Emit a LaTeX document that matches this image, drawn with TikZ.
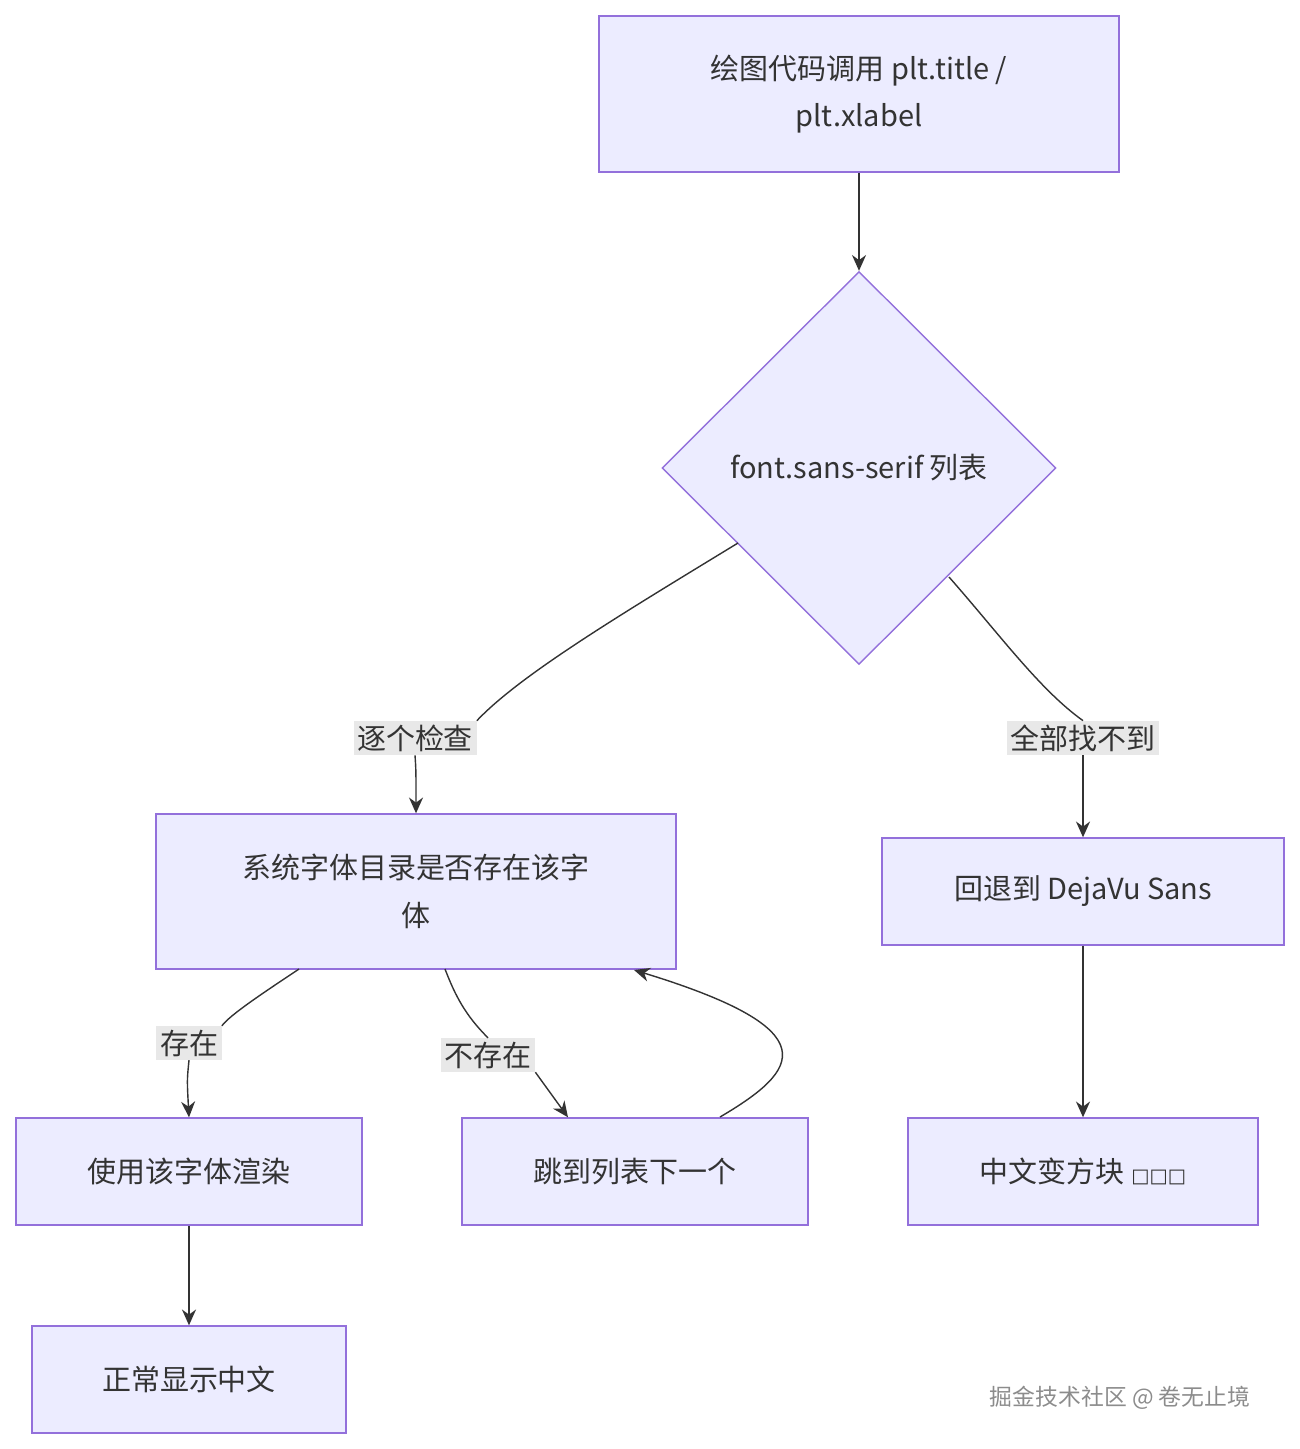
\documentclass[tikz,border=0pt]{standalone}
\usepackage{fontspec}
\setmainfont{Noto Sans CJK SC}
\usetikzlibrary{positioning,shapes.geometric,arrows.meta}

\begin{document}
\begin{tikzpicture}[
        x=0.02cm, y=-0.02cm,
        stage/.style={
                rectangle,
                draw=boxline,
                fill=boxfill,
                thick,
                align=center,
                font=\fontsize{16.5}{27}\selectfont,
                text=black!80
            },
        check/.style={
                diamond,
                draw=boxline,
                fill=boxfill,
                thick,
                inner sep=0pt,
                minimum width=7.88cm,
                minimum height=7.86cm,
                font=\fontsize{16.5}{27}\selectfont,
                text=black!80
            },
        cond/.style = {fill=black!9, inner sep=2pt, font=\fontsize{16.5}{20}\selectfont, text=black!80},
        link/.style = {draw=black!80, thick},
        flow/.style = {link, -{Stealth[length=9pt,width=8pt]}}
    ]
    \definecolor{boxfill}{HTML}{ECECFF}
    \definecolor{boxline}{HTML}{9370DB}
    \useasboundingbox (0,0) rectangle (1300,1449);

    \node[stage, minimum width=10.4cm, minimum height=3.12cm] (call) at (859,94) {绘图代码调用 plt.title /\\plt.xlabel};
    \node[check] (list) at (859,468) {font.sans-serif 列表};
    \node[stage, minimum width=10.4cm, minimum height=3.1cm] (exists) at (416,891.5) {系统字体目录是否存在该字\\体};
    \node[stage, minimum width=8.04cm, minimum height=2.14cm] (fallback) at (1083,891.5) {回退到 DejaVu Sans};
    \node[stage, minimum width=6.92cm, minimum height=2.14cm] (render) at (189,1171.5) {使用该字体渲染};
    \node[stage, minimum width=6.92cm, minimum height=2.14cm] (next) at (635,1171.5) {跳到列表下一个};
    \node[stage, minimum width=7cm, minimum height=2.14cm] (boxes) at (1083,1171.5) {中文变方块 {\fontspec{DejaVu Sans}\fontsize{11}{12}\selectfont □□□}};
    \node[stage, minimum width=6.28cm, minimum height=2.14cm] (ok) at (189,1379.5) {正常显示中文};

    \node[cond] (each) at (415,738) {逐个检查};
    \node[cond] (none) at (1083,738) {全部找不到};
    \node[cond] (yes) at (189,1043) {存在};
    \node[cond] (no) at (488,1055) {不存在};

    \draw[flow] (call) -- (list);
    \draw[link] (738,543) .. controls (620,615) and (520,675) .. (each.north east);
    \draw[flow] (each.south) .. controls (416,770) .. (exists.north);
    \draw[link] (949,577) .. controls (1000,635) and (1040,690) .. (none.north);
    \draw[flow] (none.south) .. controls (1083,780) .. (fallback.north);
    \draw[link] (299,969) .. controls (260,995) and (230,1015) .. (yes.north east);
    \draw[flow] (yes.south) .. controls (187,1080) .. (render.north);
    \draw[link] (445,969) .. controls (455,995) and (465,1015) .. (no.north);
    \draw[flow] (no.south east) -- (next.north west -| 568,0);
    \draw[flow] (720,1117) .. controls (800,1070) and (830,1030) .. (634,970);
    \draw[flow] (fallback) -- (boxes);
    \draw[flow] (render) -- (ok);

    \node[text=black!45, font=\fontsize{13}{15}\selectfont] (mark) at (1120,1398) {掘金技术社区 @ 卷无止境};
\end{tikzpicture}
\end{document}
